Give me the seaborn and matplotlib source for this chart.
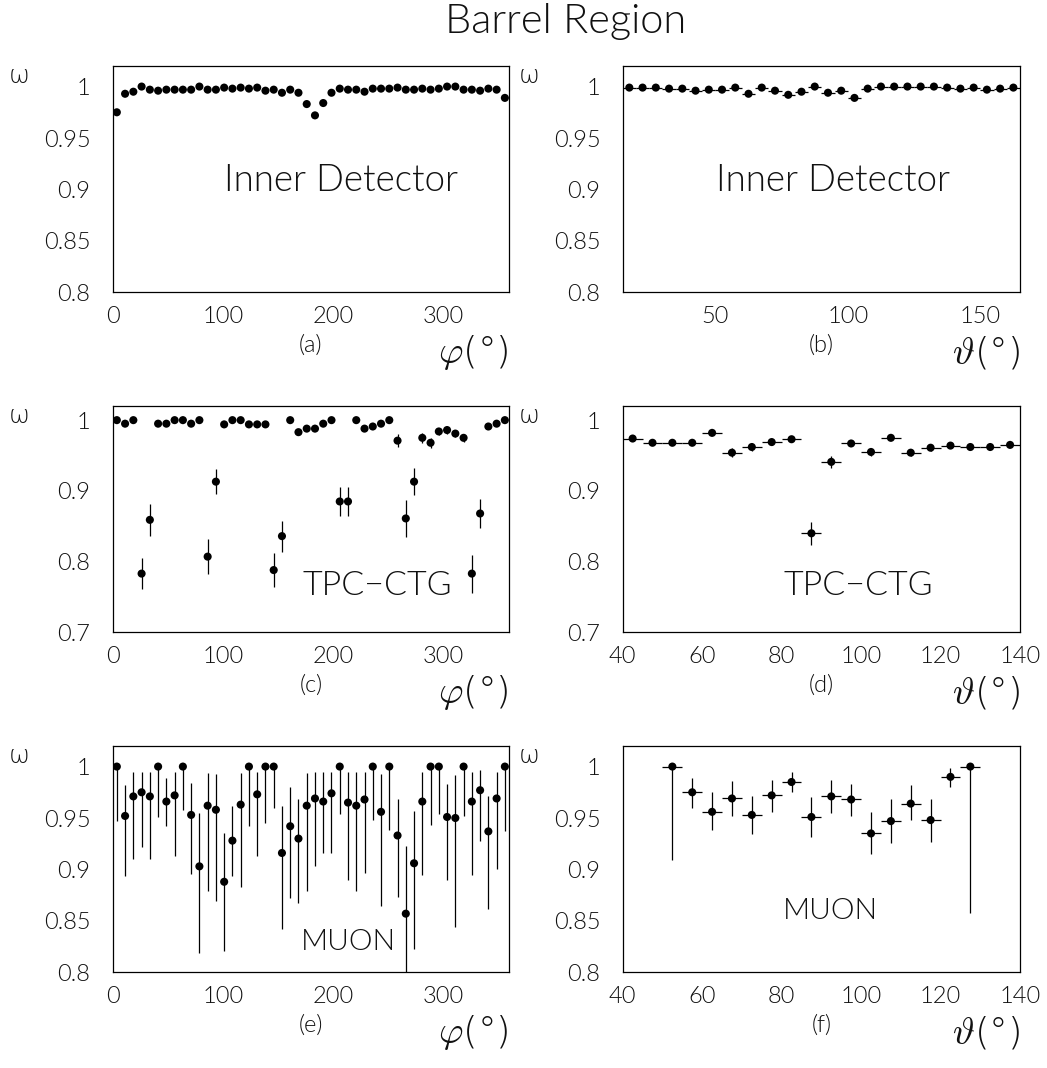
import numpy as np
import pandas as pd
import matplotlib
matplotlib.use("Agg")
import matplotlib.pyplot as plt
from matplotlib.ticker import MultipleLocator, FuncFormatter
import seaborn as sns

sns.set_theme(style="white")
plt.rcParams['font.family'] = ['Lato', 'DejaVu Sans']
plt.rcParams['font.weight'] = 300
plt.rcParams['text.color'] = 'black'
plt.rcParams['mathtext.fontset'] = 'cm'

# ---------------- data ----------------
phi_bins = np.arange(3.75, 360, 7.5)          # 48 bins of 7.5 deg
theta_b_bins = np.arange(17.5, 165, 5.0)      # 30 bins of 5 deg
theta_bins = np.arange(42.5, 140, 5.0)        # 20 bins of 5 deg

# (a) Inner Detector vs phi
eff_a = [0.975, 0.993, 0.995, 1.0, 0.997, 0.996, 0.997, 0.997, 0.997, 0.997, 1.0, 0.997,
         0.997, 0.999, 0.998, 0.999, 0.998, 0.999, 0.996, 0.997, 0.994, 0.997, 0.994, 0.983,
         0.972, 0.984, 0.994, 0.998, 0.997, 0.997, 0.995, 0.998, 0.998, 0.998, 0.999, 0.997,
         0.997, 0.998, 0.997, 0.998, 1.0, 1.0, 0.997, 0.997, 0.996, 0.998, 0.997, 0.989]
err_a = [0.001] * 48

# (b) Inner Detector vs theta
eff_b = [0.999, 0.999, 0.999, 0.998, 0.998, 0.996, 0.997, 0.997, 0.999, 0.993, 0.999, 0.996,
         0.992, 0.995, 1.0, 0.994, 0.996, 0.989, 0.998, 1.0, 1.0, 1.0, 1.0, 1.0,
         0.999, 0.998, 0.999, 0.997, 0.998, 0.999]
err_b = [0.001] * 30

# (c) TPC-CTG vs phi
eff_c = [1.0, 0.995, 1.0, 0.783, 0.859, 0.995, 0.995, 1.0, 1.0, 0.995, 1.0, 0.807,
         0.913, 0.994, 1.0, 1.0, 0.994, 0.994, 0.994, 0.788, 0.836, 1.0, 0.983, 0.988,
         0.988, 0.995, 1.0, 0.885, 0.885, 1.0, 0.988, 0.991, 0.995, 1.0, 0.971, 0.861,
         0.913, 0.975, 0.968, 0.984, 0.986, 0.981, 0.975, 0.783, 0.868, 0.991, 0.995, 1.0]
err_c = [0.001, 0.002, 0.001, 0.022, 0.023, 0.002, 0.002, 0.001, 0.001, 0.002, 0.001, 0.025,
         0.018, 0.002, 0.001, 0.001, 0.002, 0.002, 0.002, 0.024, 0.022, 0.001, 0.004, 0.004,
         0.004, 0.003, 0.001, 0.020, 0.020, 0.001, 0.004, 0.003, 0.003, 0.001, 0.009, 0.026,
         0.019, 0.007, 0.007, 0.005, 0.005, 0.005, 0.006, 0.027, 0.021, 0.003, 0.003, 0.001]

# (d) TPC-CTG vs theta
eff_d = [0.974, 0.968, 0.968, 0.968, 0.982, 0.954, 0.962, 0.969, 0.973, 0.840,
         0.941, 0.967, 0.955, 0.975, 0.954, 0.961, 0.964, 0.962, 0.962, 0.965]
err_d = [0.003, 0.003, 0.003, 0.003, 0.003, 0.006, 0.005, 0.004, 0.003, 0.016,
         0.009, 0.004, 0.006, 0.003, 0.005, 0.004, 0.004, 0.003, 0.003, 0.003]

# (e) MUON vs phi (asymmetric errors: lower / upper ends)
eff_e = [1.0, 0.952, 0.971, 0.975, 0.971, 1.0, 0.966, 0.972, 1.0, 0.953, 0.903, 0.962,
         0.958, 0.888, 0.928, 0.963, 1.0, 0.973, 1.0, 1.0, 0.916, 0.942, 0.930, 0.962,
         0.969, 0.966, 0.974, 1.0, 0.965, 0.962, 0.968, 1.0, 0.956, 1.0, 0.933, 0.857,
         0.906, 0.966, 1.0, 1.0, 0.951, 0.950, 1.0, 0.966, 0.977, 0.937, 0.969, 1.0]
low_e = [0.947, 0.894, 0.910, 0.922, 0.910, 0.951, 0.942, 0.913, 0.958, 0.896, 0.819, 0.879,
         0.869, 0.821, 0.894, 0.883, 0.942, 0.913, 0.945, 0.960, 0.842, 0.872, 0.867, 0.879,
         0.903, 0.916, 0.916, 0.954, 0.890, 0.879, 0.897, 0.948, 0.864, 0.938, 0.873, 0.790,
         0.823, 0.895, 0.943, 0.954, 0.890, 0.844, 0.952, 0.895, 0.928, 0.862, 0.900, 0.937]
high_e = [1.0, 0.982, 0.995, 0.995, 0.995, 1.0, 0.989, 0.995, 1.0, 0.984, 0.955, 0.994,
          0.993, 0.935, 0.962, 0.994, 1.0, 0.995, 1.0, 1.0, 0.962, 0.980, 0.968, 0.994,
          0.995, 0.995, 0.995, 1.0, 0.995, 0.995, 0.995, 1.0, 0.993, 1.0, 0.968, 0.923,
          0.957, 0.995, 1.0, 1.0, 0.983, 0.992, 1.0, 0.995, 0.997, 0.971, 0.995, 1.0]

# (f) MUON vs theta
theta_f = [52.5, 57.5, 62.5, 67.5, 72.5, 77.5, 82.5, 87.5, 92.5, 97.5, 102.5, 107.5,
           112.5, 117.5, 122.5, 127.5]
eff_f = [1.0, 0.975, 0.956, 0.969, 0.953, 0.972, 0.985, 0.951, 0.971, 0.968, 0.935, 0.947,
         0.964, 0.948, 0.990, 1.0]
low_f = [0.909, 0.960, 0.938, 0.952, 0.934, 0.956, 0.975, 0.932, 0.955, 0.952, 0.915, 0.926,
         0.948, 0.927, 0.980, 0.858]
high_f = [1.0, 0.989, 0.975, 0.986, 0.971, 0.987, 0.995, 0.970, 0.987, 0.983, 0.956, 0.968,
          0.982, 0.968, 0.999, 1.0]

PHI_LABEL = r'$\varphi$(°)'
THETA_LABEL = r'$\vartheta$(°)'

# ---------------- figure ----------------
W, H = 1047, 1068
fig = plt.figure(figsize=(W / 100, H / 100), dpi=100)

col_left = [112.7, 622.7]
col_width = [396.3, 397.3]
row_top = [66, 406, 746]
row_h = 226.3


def make_ax(r, c):
    left = col_left[c] / W
    bottom = 1 - (row_top[r] + row_h) / H
    return fig.add_axes([left, bottom, col_width[c] / W, row_h / H])


def fmt(v, pos):
    s = f"{v:.3f}".rstrip('0').rstrip('.')
    return s


TICK_FS = 17
GREEK = ['DejaVu Sans', 'Noto Sans', 'Lato']
TXT = '#111111'


def style(ax, xlim, ylim, xmaj, xmin, ymaj, ymin, panel, xlabel, text, text_xy, text_fs):
    ax.set_xlim(*xlim)
    ax.set_ylim(*ylim)
    ax.xaxis.set_major_locator(MultipleLocator(xmaj))
    ax.xaxis.set_minor_locator(MultipleLocator(xmin))
    ax.yaxis.set_major_locator(MultipleLocator(ymaj))
    ax.yaxis.set_minor_locator(MultipleLocator(ymin))
    ax.xaxis.set_major_formatter(FuncFormatter(fmt))
    ax.yaxis.set_major_formatter(FuncFormatter(fmt))
    ax.tick_params(axis='both', which='both', direction='in', color='black',
                   width=0.9, labelsize=TICK_FS, labelcolor=TXT)
    ax.tick_params(axis='both', which='major', length=14)
    ax.tick_params(axis='both', which='minor', length=7)
    ax.tick_params(axis='x', which='major', pad=10)
    ax.tick_params(axis='y', which='major', pad=16)
    ax.tick_params(top=False, right=False, which='both')
    for lab in ax.get_xticklabels() + ax.get_yticklabels():
        lab.set_fontweight(300)
    for sp in ax.spines.values():
        sp.set_visible(True)
        sp.set_color('black')
        sp.set_linewidth(0.9)
    ax.set_xlabel('')
    ax.set_ylabel('')
    ax.grid(False)
    ax.text(0.5, -0.235, panel, transform=ax.transAxes, ha='center', va='center',
            fontsize=TICK_FS, color=TXT, fontweight=300)
    ax.text(1.0, -0.265, xlabel, transform=ax.transAxes, ha='right', va='center',
            fontsize=27, family=GREEK, fontweight=200, color=TXT)
    ax.text(-0.235, 0.955, 'ω', transform=ax.transAxes, ha='center', va='center',
            fontsize=18, family=GREEK, fontweight=200, color=TXT)
    ax.text(text_xy[0], text_xy[1], text, ha='center', va='center',
            fontsize=text_fs, color=TXT, fontweight=300)


def draw(ax, x, y, yerr, xerr=None):
    ax.errorbar(x, y, yerr=yerr, xerr=xerr, fmt='none', ecolor='black',
                elinewidth=0.9, capsize=0, zorder=2)
    df = pd.DataFrame({'x': x, 'y': y})
    sns.scatterplot(data=df, x='x', y='y', ax=ax, color='black', s=34,
                    edgecolor='none', zorder=3, legend=False)


# (a)
ax = make_ax(0, 0)
draw(ax, phi_bins, eff_a, err_a)
style(ax, (0, 360), (0.8, 1.02), 100, 20, 0.05, 0.025, '(a)', PHI_LABEL,
      'Inner Detector', (207, 0.908), 26.4)

# (b)
ax = make_ax(0, 1)
draw(ax, theta_b_bins, eff_b, err_b, xerr=2.5)
style(ax, (15, 165), (0.8, 1.02), 50, 10, 0.05, 0.025, '(b)', THETA_LABEL,
      'Inner Detector', (94.4, 0.908), 26.4)

# (c)
ax = make_ax(1, 0)
draw(ax, phi_bins, eff_c, err_c)
style(ax, (0, 360), (0.7, 1.02), 100, 20, 0.1, 0.025, '(c)', PHI_LABEL,
      'TPC−CTG', (240, 0.766), 24.5)

# (d)
ax = make_ax(1, 1)
draw(ax, theta_bins, eff_d, err_d, xerr=2.5)
style(ax, (40, 140), (0.7, 1.02), 20, 5, 0.1, 0.025, '(d)', THETA_LABEL,
      'TPC−CTG', (99.2, 0.765), 24.5)

# (e)
ax = make_ax(2, 0)
yerr_e = [np.array(eff_e) - np.array(low_e), np.array(high_e) - np.array(eff_e)]
draw(ax, phi_bins, eff_e, yerr_e)
style(ax, (0, 360), (0.8, 1.02), 100, 20, 0.05, 0.025, '(e)', PHI_LABEL,
      'MUON', (214, 0.829), 21.5)

# (f)
ax = make_ax(2, 1)
yerr_f = [np.array(eff_f) - np.array(low_f), np.array(high_f) - np.array(eff_f)]
draw(ax, theta_f, eff_f, yerr_f, xerr=2.5)
style(ax, (40, 140), (0.8, 1.02), 20, 5, 0.05, 0.025, '(f)', THETA_LABEL,
      'MUON', (92.2, 0.860), 21.5)

fig.text(566 / W, 1 - 22 / H, 'Barrel Region', ha='center', va='center',
         fontsize=30, color=TXT, fontweight=300)

fig.savefig('out.png', dpi=100, facecolor='white')
